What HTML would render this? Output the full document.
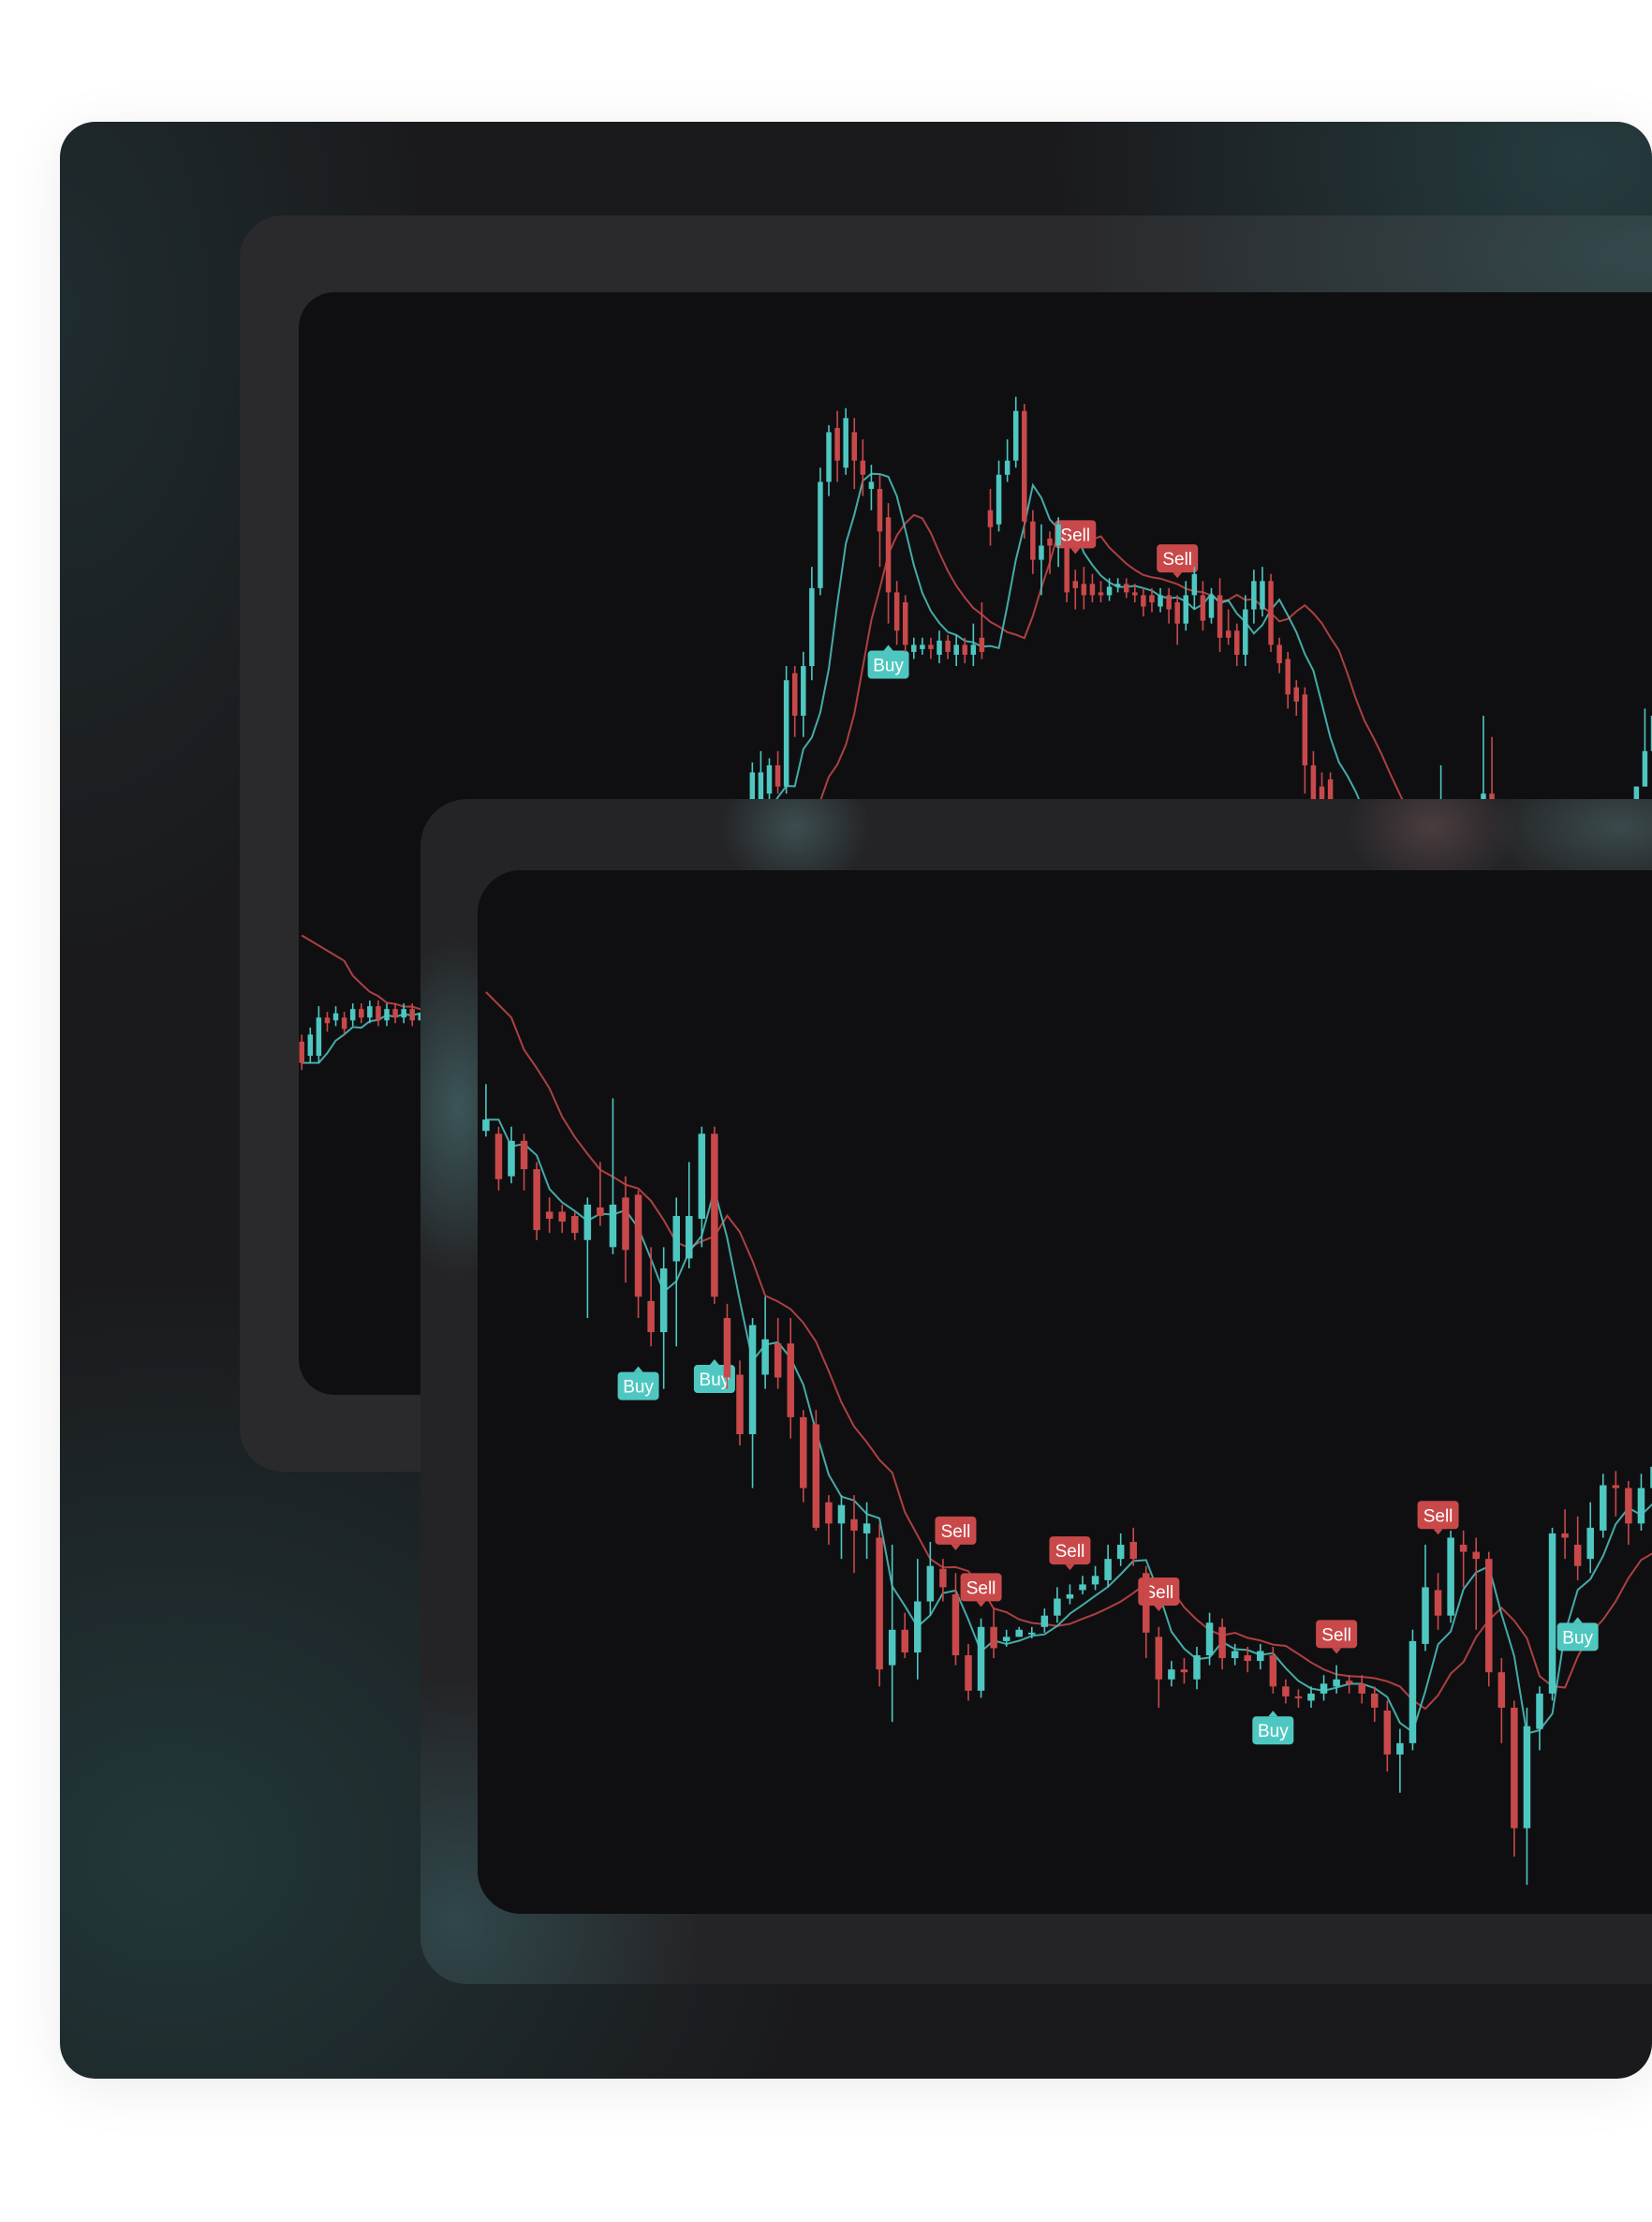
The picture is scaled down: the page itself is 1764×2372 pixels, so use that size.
<!DOCTYPE html>
<html><head><meta charset="utf-8">
<style>
html,body{margin:0;padding:0;background:#fff;}
body{width:1764px;height:2372px;position:relative;overflow:hidden;font-family:"Liberation Sans",sans-serif;}
.abs{position:absolute;}
#card{left:64px;top:130px;width:1700px;height:2089px;border-radius:38px;overflow:hidden;
 background:
 radial-gradient(ellipse 560px 440px at 1620px 40px, #253b3e 0%, rgba(36,58,61,0) 100%),
 radial-gradient(ellipse 700px 620px at 120px 1850px, #223739 0%, rgba(34,55,57,0) 100%),
 radial-gradient(ellipse 400px 700px at 0px 200px, #1f2c2f 0%, rgba(31,44,47,0) 100%),
 #1a1a1d;
 box-shadow:0 10px 60px rgba(0,0,0,0.08);}
#frame1{left:192px;top:100px;width:1700px;height:1341px;border-radius:46px;overflow:hidden;
 background:radial-gradient(ellipse 600px 260px at 1500px 40px,#34484b 0%,rgba(52,72,75,0) 100%),#2a2a2d;}
#inner1{left:63px;top:82px;width:1700px;height:1177px;border-radius:38px;overflow:hidden;background:#0f0f12;}
#frame2{left:385px;top:723px;width:1500px;height:1265px;border-radius:50px;overflow:hidden;
 background:
 radial-gradient(ellipse 90px 180px at 40px 330px,#3b5557 0%,rgba(59,85,87,0) 100%),
 radial-gradient(ellipse 260px 260px at 40px 1200px,#30474a 0%,rgba(48,71,74,0) 100%),
 radial-gradient(ellipse 80px 70px at 400px 30px,#3c4e50 0%,rgba(60,78,80,0) 100%),
 radial-gradient(ellipse 90px 70px at 1080px 30px,#4a3d3f 0%,rgba(74,61,63,0) 100%),
 radial-gradient(ellipse 140px 70px at 1280px 30px,#3a4a4c 0%,rgba(58,74,76,0) 100%),
 #242427;}
#inner2{left:61px;top:76px;width:1500px;height:1114px;border-radius:46px;overflow:hidden;background:#0f0f12;}
svg{position:absolute;left:0;top:0;}
</style></head>
<body>
<div id="card" class="abs">
 <div id="frame1" class="abs">
  <div id="inner1" class="abs">
   <svg id="svg1" width="1700" height="1177"></svg>
  </div>
 </div>
 <div id="frame2" class="abs">
  <div id="inner2" class="abs">
   <svg id="svg2" width="1500" height="1114"></svg>
  </div>
 </div>
</div>
<script>
// ---------- Back chart (chart 1) data ----------
const c1Open=[265,255,255,282,280,282,280,288,282,290,280,288,282,288,
null,null,null,null,null,null,null,null,null,null,null,null,null,null,null,null,null,null,null,null,
null,null,null,null,null,null,null,null,null,null,null,null,null,null,null,null,null,null,null,
435,435,440,460,445,525,495,530,585,660,698,670,695,675,655,655,635,582,575,540,
542,545,538,548,538,545,538,550,640,630,665,675,710,632,605,620,615,615,590,588,
588,582,580,586,588,582,580,580,572,580,575,560,580,580,564,580,555,555,538,570,
570,590,545,535,515,510,460,445,450,
null,null,null,null,null,null,null,null,null,null,null,null,410,null,null,null,null,415,440,null,
null,null,null,null,null,null,null,null,null,null,null,null,null,null,null,null,null,null];
const c1Close=[250,270,282,278,285,274,288,282,290,280,288,282,288,280,
285,300,290,310,320,305,330,340,325,350,360,345,370,365,380,370,390,400,385,410,
400,410,395,405,390,400,385,395,405,390,410,400,415,405,395,410,400,415,425,
455,455,460,445,520,495,530,585,660,695,675,705,675,665,660,625,582,555,545,545,
545,542,548,540,545,538,545,540,628,665,675,710,632,605,615,615,630,582,585,580,
580,580,586,588,582,580,572,575,580,570,560,580,595,562,580,550,550,538,570,590,
590,545,532,510,505,460,435,430,435,
420,400,390,380,370,385,375,390,380,400,395,410,430,420,415,425,420,440,425,410,
400,395,385,390,380,395,390,400,410,405,415,420,410,425,430,445,470,495];
const c1High=[270,275,290,286,290,286,292,292,294,294,292,292,292,292,
0,0,0,0,0,0,0,0,0,0,0,0,0,0,0,0,0,0,0,0,0,0,0,0,0,0,0,0,0,0,0,0,0,0,0,0,0,0,0,
462,470,465,470,530,530,540,600,670,700,710,712,705,690,672,665,645,590,580,550,
550,550,555,552,552,550,560,575,655,675,690,720,715,640,630,625,635,625,598,600,
595,590,592,592,592,588,585,585,585,585,580,590,600,590,585,592,570,560,580,598,
600,595,550,540,520,515,470,455,455,
0,0,0,0,0,0,0,0,0,0,0,0,460,0,0,0,0,495,480,0,0,0,0,0,0,0,0,0,0,0,0,0,0,0,0,0,500,515];
const c1Low=[245,250,250,272,276,270,276,278,278,276,276,278,278,276,
0,0,0,0,0,0,0,0,0,0,0,0,0,0,0,0,0,0,0,0,0,0,0,0,0,0,0,0,0,0,0,0,0,0,0,0,0,0,0,
430,430,435,440,440,480,480,520,580,650,660,665,655,650,640,600,560,545,540,535,
538,535,532,535,530,532,530,535,615,625,660,670,620,595,580,595,600,575,570,570,
575,575,576,582,578,575,565,568,568,560,545,555,570,555,560,540,545,530,530,560,
565,540,525,500,495,440,420,420,425,
0,0,0,0,0,0,0,0,0,0,0,0,405,0,0,0,0,410,400,0,0,0,0,0,0,0,0,0,0,0,0,0,0,0,0,0,0,0];
const c1SigIndex=[69,91,103];
const c1SigType=["Buy","Sell","Sell"];
const c1SigLevel=[531,623,606];

// ---------- Front chart (chart 2) data ----------
const c2Open=[602,600,570,595,575,545,545,542,525,548,520,555,557,482,460,510,512,540,600,470,
430,388,430,452,452,400,395,340,325,328,318,315,225,250,234,270,293,275,232,207,
252,242,245,248,252,260,272,278,282,285,300,312,290,245,215,222,215,232,252,230,
232,228,232,210,203,200,205,210,214,212,205,193,162,170,240,278,260,310,305,300,
220,195,110,180,205,318,310,300,320,352,350,325,350];
const c2Close=[610,568,595,575,532,540,538,530,550,542,550,518,485,460,505,542,542,600,485,428,
388,465,455,428,400,350,322,325,338,320,325,222,250,234,270,295,280,232,207,252,
237,245,250,248,260,272,275,282,288,300,310,300,248,215,222,220,232,255,230,235,
228,235,210,203,202,205,212,215,212,205,195,162,170,242,280,260,315,305,300,220,
195,110,182,205,318,315,295,322,352,350,325,350,365];
const c2High=[635,605,605,600,580,555,550,545,555,580,625,570,560,520,520,555,580,605,605,480,
440,470,485,470,470,405,405,345,345,345,340,325,310,262,300,312,300,290,240,258,
265,250,252,252,265,280,282,288,295,310,318,322,295,252,228,230,238,262,258,240,
238,240,238,215,208,210,218,225,218,218,210,200,180,250,310,290,320,320,315,305,
230,200,195,210,322,335,330,340,360,362,355,360,375];
const c2Low=[598,560,565,560,525,530,530,525,470,535,515,495,470,450,420,450,505,520,480,420,
380,350,420,420,385,340,320,310,300,290,300,210,185,230,215,260,270,225,200,202,
230,238,245,244,248,255,268,275,278,280,295,295,230,195,210,212,208,225,222,225,
220,222,205,198,195,195,200,205,205,198,185,150,135,165,235,250,255,280,250,210,
170,90,70,165,200,300,285,290,315,330,310,320,345];
const c2SigIndex=[12,18,37,39,46,53,62,67,75,86];
const c2SigType=["Buy","Buy","Sell","Sell","Sell","Sell","Buy","Sell","Sell","Buy"];
const c2SigLevel=[422,427,320,280,306,277,179,247,331,245];

const S=1764/1166;
const UP="#4fc7c1", DN="#c9494a";
const NS="http://www.w3.org/2000/svg";

function mk(tag,attrs,parent){const e=document.createElementNS(NS,tag);for(const k in attrs)e.setAttribute(k,attrs[k]);parent.appendChild(e);return e;}

function emaSeed(vals,alpha,seed){const out=[];let v=seed;for(let i=0;i<vals.length;i++){v=v+alpha*(vals[i]-v);out.push(v);}return out;}

function linePath(vals,shift,seed,xAxis,yAxis){
  let d=`M${xAxis(0).toFixed(1)},${yAxis(seed).toFixed(1)}`;
  vals.forEach((v,i)=>{d+=`L${xAxis(i+shift).toFixed(1)},${yAxis(v).toFixed(1)}`;});
  return d;
}

function drawChart(svg,offX,offY,open,close,high,low,xAxis,yAxis,bodyW,sigI,sigT,sigL,fastA,fastShift,slowA,slowShift,seedSlow){
  const g=mk('g',{transform:`translate(${-offX},${-offY})`},svg);
  
  
  const n=close.length;
  const o=[];for(let i=0;i<n;i++){o.push(open[i]==null?(i?close[i-1]:close[i]):open[i]);}
  const fast=emaSeed(close,fastA,close[0]);
  const slow=emaSeed(close,slowA,seedSlow);
  const l1=mk('path',{d:linePath(slow,slowShift,seedSlow,xAxis,yAxis),fill:'none',stroke:DN,'stroke-width':2,opacity:0.85},g);
  
  
  const l2=mk('path',{d:linePath(fast,fastShift,close[0],xAxis,yAxis),fill:'none',stroke:UP,'stroke-width':2,opacity:0.85},g);
  
  
  for(let k=0;k<sigI.length;k++){
    const cx=xAxis(sigI[k]), cy=yAxis(sigL[k]);
    const isBuy=sigT[k]==="Buy";
    const col=isBuy?UP:DN;
    const sg=mk('g',{},g);
    
    
    mk('rect',{x:cx-22,y:cy-15,width:44,height:30,rx:4,fill:col},sg);
    if(isBuy) mk('path',{d:`M${cx-5},${cy-15}L${cx},${cy-21}L${cx+5},${cy-15}Z`,fill:col},sg);
    else mk('path',{d:`M${cx-5},${cy+15}L${cx},${cy+21}L${cx+5},${cy+15}Z`,fill:col},sg);
    const t=mk('text',{x:cx,y:cy+7,'text-anchor':'middle','font-size':19,'font-family':'"Liberation Sans",sans-serif',fill:'#ffffff'},sg);
    t.textContent=sigT[k];
  }
  for(let i=0;i<n;i++){
    const oc=o[i],cc=close[i];
    const h=Math.max(high[i]||0,oc,cc), l=Math.min(low[i]||1e9,oc,cc);
    const col=cc>=oc?UP:DN;
    const x=xAxis(i);
    const cg=mk('g',{},g);
    
    
    mk('line',{x1:x,x2:x,y1:yAxis(h),y2:yAxis(l),stroke:col,'stroke-width':1.6},cg);
    const y1=yAxis(Math.max(oc,cc)),y2=yAxis(Math.min(oc,cc));
    mk('rect',{x:x-bodyW/2,y:y1,width:bodyW,height:Math.max(2,y2-y1),fill:col},cg);
  }
}

const in1X=64+192+63, in1Y=130+100+82;
const in2X=64+385+61, in2Y=130+723+76;

const x1=i=>(213+i*6.0)*S;
const y1=p=>(1000-p)*S;
drawChart(document.getElementById('svg1'),in1X,in1Y,c1Open,c1Close,c1High,c1Low,x1,y1,5.5,c1SigIndex,c1SigType,c1SigLevel,0.35,2,0.2,5,340);

const x2=i=>(343+i*8.96)*S;
const y2=p=>(1400-p)*S;
drawChart(document.getElementById('svg2'),in2X,in2Y,c2Open,c2Close,c2High,c2Low,x2,y2,7.5,c2SigIndex,c2SigType,c2SigLevel,0.45,1,0.2,2,700);
</script>
</body></html>
